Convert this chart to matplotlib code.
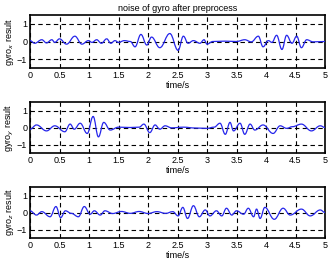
import matplotlib
matplotlib.use("Agg")
import matplotlib.pyplot as plt
from matplotlib.path import Path
from matplotlib.patches import PathPatch
import numpy as np

title = "noise of gyro after preprocess"
xlabel = "time/s"
ylabels = ["gyro$_x$ result", "gyro$_y$ result", "gyro$_z$ result"]
xticks = [0, 0.5, 1, 1.5, 2, 2.5, 3, 3.5, 4, 4.5, 5]
xticklabels = ["0", "0.5", "1", "1.5", "2", "2.5", "3", "3.5", "4", "4.5", "5"]
yticks = [-1, 0, 1]

# extrema (time, value)
tx = [0.0, 0.08, 0.2, 0.28, 0.37, 0.42, 0.5, 0.62, 0.76, 0.88, 0.99, 1.05, 1.13, 1.21, 1.3, 1.37, 1.44, 1.5,
      1.6, 1.7, 1.78, 1.88, 1.98, 2.06, 2.2, 2.37, 2.51, 2.6, 2.68, 2.77, 2.88, 2.95, 3.0, 3.1, 3.3, 3.5,
      3.64, 3.75, 3.87, 3.95, 4.04, 4.1, 4.18, 4.27, 4.35, 4.44, 4.52, 4.6, 4.69, 4.8, 5.0]
vx = [0.05, -0.1, 0.1, -0.08, 0.1, -0.05, 0.15, -0.15, 0.3, -0.15, 0.05, -0.05, 0.1, -0.1, 0.15, -0.1, 0.05, -0.05,
      0.05, 0.0, -0.3, 0.4, -0.2, 0.25, -0.35, 0.45, -0.5, 0.3, -0.1, 0.05, -0.1, 0.1, -0.15, 0.0, 0.02, 0.0,
      0.1, -0.02, 0.3, -0.3, 0.05, -0.05, 0.35, -0.45, 0.35, -0.1, 0.3, -0.35, 0.1, -0.02, 0.0]

ty = [0.0, 0.11, 0.28, 0.42, 0.59, 0.68, 0.75, 0.85, 0.97, 1.07, 1.16, 1.25, 1.36, 1.5, 1.7, 1.85, 1.93, 2.03,
      2.12, 2.2, 2.29, 2.4, 2.6, 2.8, 3.0, 3.12, 3.22, 3.31, 3.39, 3.45, 3.56, 3.64, 3.73, 3.81, 3.95, 4.12,
      4.24, 4.35, 4.45, 4.6, 4.77, 4.92, 5.0]
vy = [-0.1, 0.15, -0.2, 0.1, -0.25, 0.2, -0.1, 0.25, -0.35, 0.65, -0.55, 0.3, -0.15, 0.02, 0.0, 0.02, 0.2, -0.3,
      0.15, -0.1, 0.1, -0.02, 0.02, -0.03, -0.05, 0.02, 0.25, -0.4, 0.3, -0.2, 0.25, -0.4, 0.2, -0.15, 0.15, -0.35,
      0.1, -0.05, 0.05, 0.2, -0.2, 0.1, 0.0]

tz = [0.0, 0.11, 0.2, 0.34, 0.44, 0.52, 0.6, 0.7, 0.82, 0.92, 1.02, 1.09, 1.19, 1.27, 1.4, 1.55, 1.7, 1.85,
      2.0, 2.15, 2.3, 2.42, 2.51, 2.59, 2.67, 2.77, 2.87, 2.97, 3.05, 3.16, 3.25, 3.33, 3.42, 3.5, 3.62, 3.7,
      3.79, 3.84, 3.9, 3.98, 4.14, 4.29, 4.41, 4.6, 4.75, 4.92, 5.0]
vz = [0.1, -0.15, 0.05, -0.25, 0.35, -0.3, 0.1, -0.05, -0.25, 0.35, -0.1, 0.1, -0.15, 0.1, -0.06, 0.06, -0.05, 0.06,
      -0.06, 0.05, -0.05, 0.05, -0.2, 0.3, -0.35, 0.4, -0.25, 0.15, -0.2, 0.1, -0.2, 0.25, -0.15, 0.1, -0.1, 0.25,
      -0.25, 0.2, -0.35, 0.3, -0.4, 0.25, -0.15, 0.2, -0.2, 0.15, 0.0]

series = [(tx, vx), (ty, vy), (tz, vz)]


def smooth_path(t, v):
    # cubic Bezier segments with flat tangents at each extremum
    verts = [(t[0], v[0])]
    codes = [Path.MOVETO]
    for k in range(len(t) - 1):
        dt = t[k + 1] - t[k]
        verts += [(t[k] + 0.4 * dt, v[k]), (t[k + 1] - 0.4 * dt, v[k + 1]), (t[k + 1], v[k + 1])]
        codes += [Path.CURVE4] * 3
    return Path(verts, codes)


W, H = 332, 264
fig = plt.figure(figsize=(W / 100, H / 100), dpi=100)
plt.rcParams['font.family'] = ['Liberation Sans', 'DejaVu Sans']

# (top, bottom) pixel rows of each axes
rows = [(15, 68), (102, 153), (187, 238)]
x0, x1 = 30, 325

for i, ((t, v), (top, bot)) in enumerate(zip(series, rows)):
    ax = fig.add_axes([x0 / W, 1 - bot / H, (x1 - x0) / W, (bot - top) / H])
    ax.add_patch(PathPatch(smooth_path(t, v), facecolor='none',
                           edgecolor=(0.15, 0.15, 0.92), lw=0.9, zorder=3))
    ax.set_xlim(0, 5)
    ax.set_ylim(-1.5, 1.5)
    ax.set_xticks(xticks)
    ax.set_xticklabels(xticklabels)
    ax.set_yticks(yticks)
    ax.grid(True, color='black', linestyle=(0, (4, 3)), lw=0.8)
    ax.tick_params(direction='in', length=2, width=0.6, labelsize=6.5, pad=2, colors='black')
    for s in ax.spines.values():
        s.set_linewidth(1.2)
    ax.set_xlabel(xlabel, fontsize=6.5, labelpad=1)
    ax.set_ylabel(ylabels[i], fontsize=6.5, labelpad=1)
    if i == 0:
        ax.set_title(title, fontsize=6.5, pad=3)

fig.savefig("out.png", dpi=100)
